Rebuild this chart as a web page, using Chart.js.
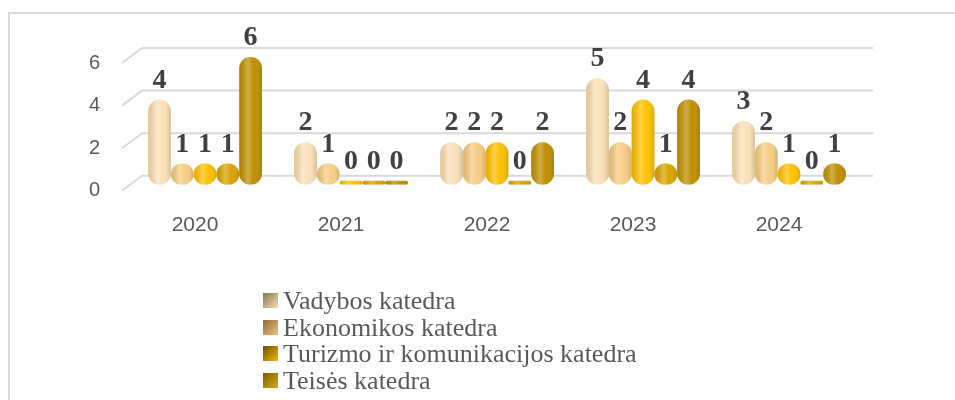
<!DOCTYPE html>
<html>
<head>
<meta charset="utf-8">
<script src="https://cdn.jsdelivr.net/npm/chart.js@4.4.1/dist/chart.umd.min.js"></script>
<style>
  html, body { margin: 0; padding: 0; background: #fff; overflow: hidden; }
  #wrap { position: relative; width: 955px; height: 400px; overflow: hidden; }
  #frame { position: absolute; left: 8px; top: 12px; width: 980px; height: 420px; border: 2px solid #d9d9d9; box-sizing: border-box; }
  #chart { position: absolute; left: 0; top: 0; }
  #legend { position: absolute; left: 263px; top: 288px; font-family: "Liberation Serif", "Times New Roman", serif; font-size: 26px; color: #595959; }
  #legend div { height: 26.7px; line-height: 26.7px; white-space: nowrap; }
  #legend span.box { display: inline-block; width: 15px; height: 15px; margin-right: 5px; vertical-align: 1px; }
</style>
</head>
<body>
<div id="wrap">
  <div id="frame"></div>
  <canvas id="chart" width="955" height="400"></canvas>
  <div id="legend"></div>
</div>
<script>
var years = ["2020", "2021", "2022", "2023", "2024"];
var seriesNames = ["Vadybos katedra", "Ekonomikos katedra", "Turizmo ir komunikacijos katedra", "Teisės katedra", ""];
var vadybos = [4, 2, 2, 5, 3];
var ekonomikos = [1, 1, 2, 2, 2];
var turizmo = [1, 0, 2, 4, 1];
var teises = [1, 0, 0, 1, 0];
var penkta = [6, 0, 2, 4, 1];
var barColors = ["#fbe0b8", "#f6cd85", "#ffc000", "#d9a300", "#bf8f00"];
var yTicks = [0, 2, 4, 6];

var allValues = [vadybos, ekonomikos, turizmo, teises, penkta];

// 3D style grid: back lines plus short diagonals on the left
var gridPlugin = {
  id: "grid3d",
  beforeDatasetsDraw: function(chart) {
    var ctx = chart.ctx, area = chart.chartArea, y = chart.scales.y;
    ctx.save();
    ctx.strokeStyle = "#d9d9d9";
    ctx.lineWidth = 2;
    yTicks.forEach(function(v) {
      var py = y.getPixelForValue(v);
      ctx.beginPath();
      ctx.moveTo(area.left - 10, py + 6);
      ctx.lineTo(area.left + 10, py - 9);
      ctx.lineTo(area.right + 11, py - 9);
      ctx.stroke();
    });
    ctx.restore();
  }
};

// shading on the capsules and the value labels
var shadePlugin = {
  id: "shade",
  afterDatasetsDraw: function(chart) {
    var ctx = chart.ctx;
    ctx.save();
    chart.getSortedVisibleDatasetMetas().forEach(function(meta) {
      meta.data.forEach(function(el, i) {
        var p = el.getProps(["x", "y", "base", "width"], true);
        var top = Math.min(p.y, p.base), h = Math.abs(p.base - p.y);
        var left = p.x - p.width / 2;
        var g = ctx.createLinearGradient(left, 0, left + p.width, 0);
        g.addColorStop(0, "rgba(90,60,0,0.14)");
        g.addColorStop(0.38, "rgba(255,255,255,0.28)");
        g.addColorStop(0.65, "rgba(255,255,255,0)");
        g.addColorStop(1, "rgba(70,45,0,0.2)");
        ctx.fillStyle = g;
        ctx.beginPath();
        ctx.roundRect(left, top, p.width, h, Math.min(p.width / 2, h / 2));
        ctx.fill();

        var val = chart.data.datasets[meta.index].data[i];
        ctx.fillStyle = "#404040";
        ctx.font = "bold 28px 'Liberation Serif'";
        ctx.textAlign = "center";
        ctx.textBaseline = "alphabetic";
        ctx.fillText(String(val), p.x, p.y - 12);
      });
    });
    ctx.restore();
  }
};

var datasets = [];
for (var k = 0; k < allValues.length; k++) {
  datasets.push({
    label: seriesNames[k],
    data: allValues[k],
    backgroundColor: barColors[k],
    borderWidth: 0,
    borderSkipped: false,
    borderRadius: 12,
    minBarLength: 4,
    categoryPercentage: 0.78,
    barPercentage: 1
  });
}

var chart = new Chart(document.getElementById("chart"), {
  type: "bar",
  data: { labels: years, datasets: datasets },
  options: {
    responsive: false,
    animation: false,
    layout: { padding: { top: 57, left: 80, right: 93, bottom: 134 } },
    plugins: { legend: { display: false }, tooltip: { enabled: false } },
    scales: {
      x: {
        grid: { display: false, drawTicks: false },
        border: { display: false },
        ticks: { color: "#595959", font: { family: "Liberation Sans", size: 21 }, padding: 28, labelOffset: -10 }
      },
      y: {
        min: 0, max: 6,
        grid: { display: false, drawTicks: false },
        border: { display: false },
        afterFit: function(scale) { scale.width = 52; },
        ticks: { stepSize: 2, color: "#595959", font: { family: "Liberation Sans", size: 20 }, padding: 32, labelOffset: 6 }
      }
    }
  },
  plugins: [gridPlugin, shadePlugin]
});

// legend as text lines, one per row
var legendEl = document.getElementById("legend");
var swatches = [
  "linear-gradient(135deg, #8a7350, #f6dcb4)",
  "linear-gradient(135deg, #8a6c3a, #f0c27a)",
  "linear-gradient(135deg, #6b5200, #f2b800)",
  "linear-gradient(135deg, #7a5c00, #e0aa10)"
];
for (var n = 0; n < 4; n++) {
  var row = document.createElement("div");
  row.innerHTML = '<span class="box" style="background:' + swatches[n] + '"></span>' + chart.data.datasets[n].label;
  legendEl.appendChild(row);
}
</script>
</body>
</html>
